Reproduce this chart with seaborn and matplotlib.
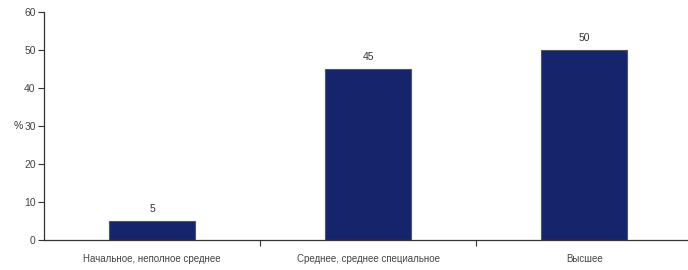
import matplotlib
matplotlib.use("Agg")
import matplotlib.pyplot as plt
import seaborn as sns
import pandas as pd

categories = ["Начальное, неполное среднее", "Среднее, среднее специальное", "Высшее"]
values = [5, 45, 50]
y_ticks = [0, 10, 20, 30, 40, 50, 60]

sns.set_style("white")
plt.rcParams['font.family'] = ['Liberation Sans', 'DejaVu Sans']

df = pd.DataFrame({"cat": categories, "val": values})

fig = plt.figure(figsize=(6.88, 2.70), dpi=100)
ax = fig.add_axes([0.064, 0.111, 0.936, 0.845])

sns.barplot(data=df, x="cat", y="val", color="#16256b", width=0.40,
            edgecolor="#555555", linewidth=0.8, saturation=1, ax=ax)

for i, v in enumerate(values):
    ax.text(i, v + 1.8, str(v), ha="center", va="bottom", fontsize=7.5, color="#333333")

ax.set_ylim(0, 60)
ax.set_xlim(-0.5, 2.48)
ax.set_yticks(y_ticks)
ax.set_yticklabels([str(t) for t in y_ticks], fontsize=7.5, color="#444444")
ax.set_xticks(range(len(categories)))
ax.set_xticklabels(categories, fontsize=7, color="#444444")
ax.tick_params(axis="x", which="major", bottom=True, length=0, pad=10)
ax.set_xticks([0.5, 1.5], minor=True)
ax.tick_params(axis="x", which="minor", bottom=True, length=4, width=0.8, color="#333333", direction="out")
ax.tick_params(axis="y", left=True, length=4, width=0.8, color="#333333", direction="out", pad=2)
ax.set_xlabel("")
ax.set_ylabel("%", rotation=0, fontsize=7.5, color="#333333", labelpad=4, va="center")

for s in ["top", "right"]:
    ax.spines[s].set_visible(False)
for s in ["left", "bottom"]:
    ax.spines[s].set_color("#333333")
    ax.spines[s].set_linewidth(0.9)

fig.savefig("out.png", dpi=100)
